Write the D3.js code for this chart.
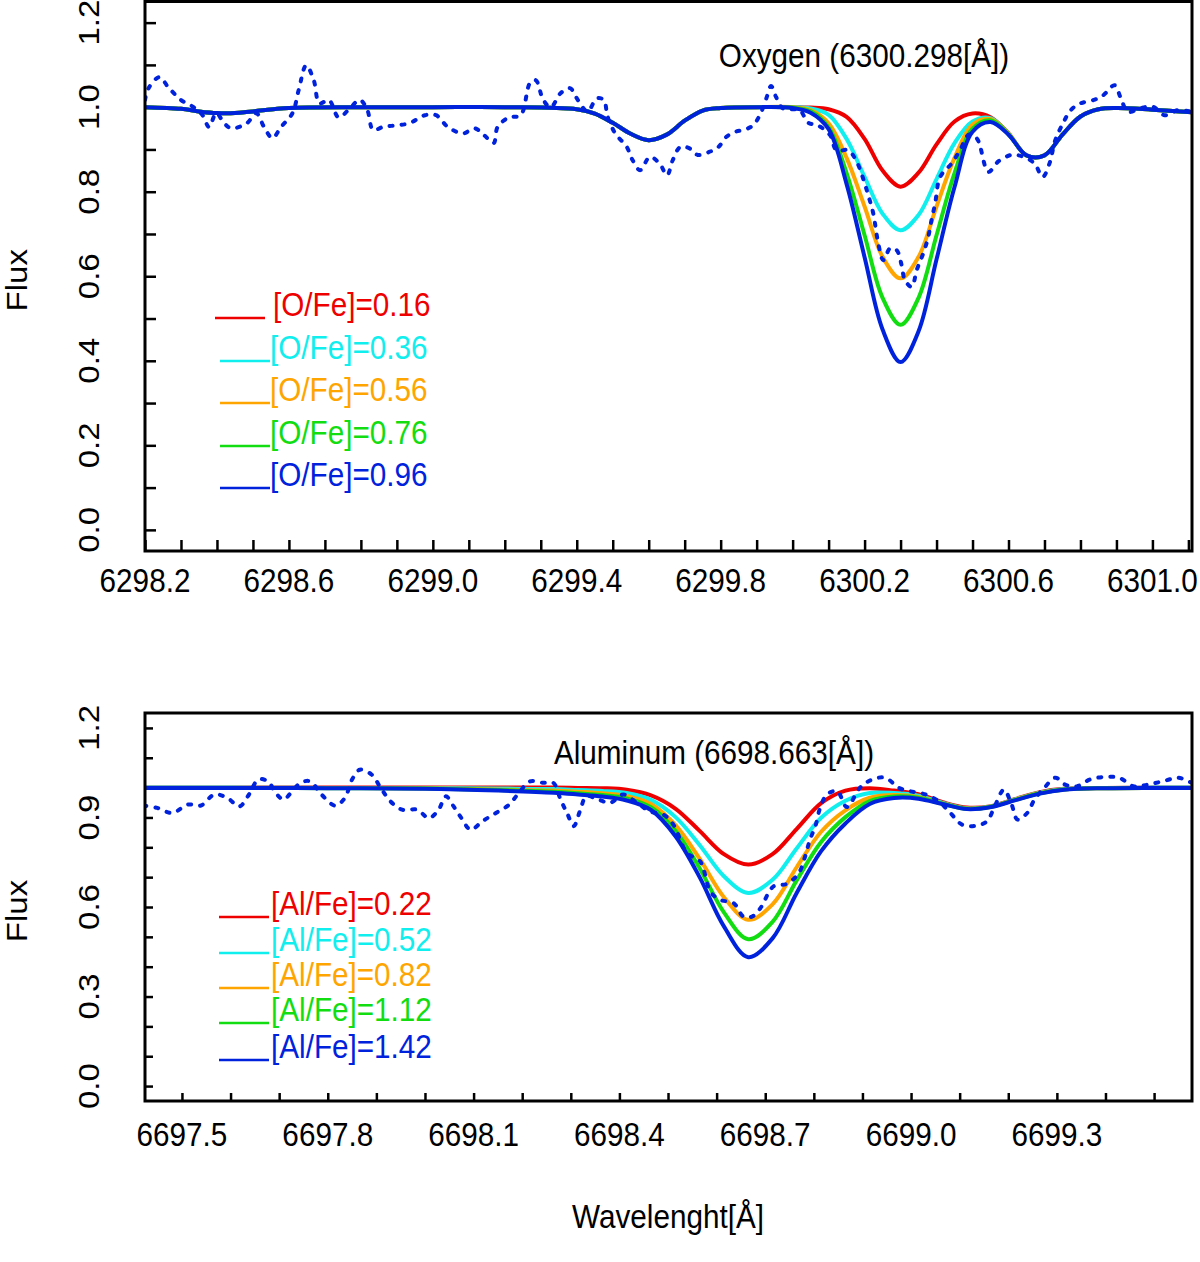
<!DOCTYPE html>
<html>
<head>
<meta charset="utf-8">
<script src="https://cdn.jsdelivr.net/npm/d3@7"></script>
<style>
  body { margin: 0; background: #fff; }
  svg { display: block; }
</style>
</head>
<body>
<svg id="chart" width="1200" height="1262"></svg>
<script>
// ---- Oxygen panel: synthetic spectra (wavelength grid + flux per abundance) ----
const oxyWave = [6298.20, 6298.30, 6298.35, 6298.40, 6298.45, 6298.50, 6298.60, 6298.80, 6299.00, 6299.20,
  6299.40, 6299.45, 6299.50, 6299.55, 6299.60, 6299.65, 6299.70, 6299.75, 6299.80, 6299.90,
  6300.00, 6300.05, 6300.10, 6300.15, 6300.20, 6300.25, 6300.30, 6300.35, 6300.40, 6300.45,
  6300.50, 6300.55, 6300.60, 6300.65, 6300.70, 6300.75, 6300.80, 6300.85, 6300.90, 6301.00, 6301.11];

const oxyRed = [1.000, 0.996, 0.990, 0.986, 0.986, 0.990, 0.998, 1.000, 1.000, 1.000,
  0.995, 0.985, 0.963, 0.937, 0.922, 0.935, 0.968, 0.992, 0.998, 1.000,
  1.000, 0.999, 0.995, 0.977, 0.925, 0.850, 0.812, 0.845, 0.912, 0.966,
  0.985, 0.976, 0.938, 0.886, 0.886, 0.935, 0.978, 0.995, 0.998, 0.994, 0.988];
const oxyCyan = [1.000, 0.996, 0.990, 0.986, 0.986, 0.990, 0.998, 1.000, 1.000, 1.000,
  0.995, 0.985, 0.963, 0.937, 0.922, 0.935, 0.968, 0.992, 0.998, 1.000,
  1.000, 0.997, 0.982, 0.925, 0.835, 0.748, 0.709, 0.745, 0.830, 0.915,
  0.966, 0.974, 0.937, 0.886, 0.886, 0.935, 0.978, 0.995, 0.998, 0.994, 0.988];
const oxyOrange = [1.000, 0.996, 0.990, 0.986, 0.986, 0.990, 0.998, 1.000, 1.000, 1.000,
  0.995, 0.985, 0.963, 0.937, 0.922, 0.935, 0.968, 0.992, 0.998, 1.000,
  1.000, 0.993, 0.962, 0.880, 0.765, 0.646, 0.595, 0.646, 0.765, 0.880,
  0.959, 0.972, 0.937, 0.886, 0.886, 0.935, 0.978, 0.995, 0.998, 0.994, 0.988];
const oxyGreen = [1.000, 0.996, 0.990, 0.986, 0.986, 0.990, 0.998, 1.000, 1.000, 1.000,
  0.995, 0.985, 0.963, 0.937, 0.922, 0.935, 0.968, 0.992, 0.998, 1.000,
  0.999, 0.990, 0.952, 0.844, 0.697, 0.549, 0.485, 0.549, 0.697, 0.844,
  0.949, 0.969, 0.936, 0.886, 0.886, 0.935, 0.978, 0.995, 0.998, 0.994, 0.988];
const oxyBlue = [1.000, 0.996, 0.990, 0.986, 0.986, 0.990, 0.998, 1.000, 1.000, 1.000,
  0.995, 0.985, 0.963, 0.937, 0.922, 0.935, 0.968, 0.992, 0.998, 1.000,
  0.998, 0.987, 0.948, 0.818, 0.645, 0.474, 0.397, 0.470, 0.640, 0.811,
  0.942, 0.965, 0.935, 0.886, 0.886, 0.935, 0.978, 0.995, 0.998, 0.994, 0.988];

// observed spectrum (dotted)
const oxyObsWave = [6298.200, 6298.210, 6298.240, 6298.265, 6298.300, 6298.335, 6298.360, 6298.378, 6298.398, 6298.420,
  6298.440, 6298.483, 6298.509, 6298.531, 6298.554, 6298.578, 6298.610, 6298.627, 6298.648, 6298.669,
  6298.685, 6298.711, 6298.738, 6298.765, 6298.797, 6298.818, 6298.834, 6298.861, 6298.898, 6298.935,
  6298.978, 6299.009, 6299.042, 6299.084, 6299.116, 6299.142, 6299.169, 6299.180, 6299.212, 6299.244,
  6299.270, 6299.286, 6299.307, 6299.328, 6299.355, 6299.381, 6299.403, 6299.430, 6299.456, 6299.475,
  6299.486, 6299.507, 6299.539, 6299.555, 6299.576, 6299.603, 6299.630, 6299.651, 6299.667, 6299.688,
  6299.715, 6299.736, 6299.768, 6299.794, 6299.816, 6299.842, 6299.863, 6299.890, 6299.911, 6299.927,
  6299.940, 6299.954, 6299.973, 6300.000, 6300.020, 6300.044, 6300.070, 6300.104, 6300.122, 6300.155,
  6300.178, 6300.196, 6300.210, 6300.224, 6300.238, 6300.252, 6300.271, 6300.289, 6300.303, 6300.312,
  6300.331, 6300.345, 6300.363, 6300.377, 6300.386, 6300.396, 6300.410, 6300.442, 6300.465, 6300.490,
  6300.512, 6300.544, 6300.571, 6300.608, 6300.640, 6300.672, 6300.695, 6300.714, 6300.730, 6300.751,
  6300.773, 6300.800, 6300.837, 6300.863, 6300.895, 6300.911, 6300.932, 6300.964, 6301.001, 6301.034,
  6301.071, 6301.108];
const oxyObsFlux = [1.017, 1.045, 1.071, 1.047, 1.017, 1.000, 0.981, 0.953, 0.986, 0.962,
  0.950, 0.962, 0.986, 0.953, 0.927, 0.953, 0.986, 1.040, 1.099, 1.064,
  1.009, 1.017, 0.976, 0.993, 1.017, 0.993, 0.946, 0.953, 0.957, 0.962,
  0.981, 0.981, 0.953, 0.938, 0.950, 0.934, 0.915, 0.953, 0.976, 0.981,
  1.057, 1.064, 1.017, 1.000, 1.033, 1.045, 1.017, 0.990, 1.021, 1.017,
  0.977, 0.938, 0.906, 0.875, 0.851, 0.882, 0.867, 0.839, 0.875, 0.906,
  0.902, 0.887, 0.894, 0.906, 0.930, 0.942, 0.946, 0.957, 0.985, 1.021,
  1.050, 1.024, 0.997, 0.995, 0.993, 0.963, 0.957, 0.934, 0.898, 0.898,
  0.871, 0.831, 0.792, 0.749, 0.678, 0.638, 0.666, 0.662, 0.626, 0.591,
  0.575, 0.615, 0.654, 0.693, 0.733, 0.772, 0.835, 0.867, 0.898, 0.935,
  0.926, 0.847, 0.871, 0.887, 0.883, 0.867, 0.835, 0.867, 0.922, 0.961,
  0.993, 1.009, 1.017, 1.028, 1.052, 1.024, 0.989, 0.997, 1.001, 0.981,
  0.993, 0.989];

const oxyLabels = ['[O/Fe]=0.16', '[O/Fe]=0.36', '[O/Fe]=0.56', '[O/Fe]=0.76', '[O/Fe]=0.96'];
const oxyXTicks = [6298.2, 6298.6, 6299.0, 6299.4, 6299.8, 6300.2, 6300.6, 6301.0];
const oxyYTicks = [0.0, 0.2, 0.4, 0.6, 0.8, 1.0, 1.2];

// ---- Aluminum panel ----
const alWave = [6697.424, 6697.600, 6697.800, 6698.000, 6698.150, 6698.265, 6698.315, 6698.365, 6698.415, 6698.465,
  6698.515, 6698.565, 6698.615, 6698.665, 6698.715, 6698.765, 6698.815, 6698.865, 6698.915, 6698.965,
  6699.015, 6699.065, 6699.115, 6699.165, 6699.215, 6699.265, 6699.315, 6699.400, 6699.500, 6699.578];

const alRed = [1.000, 1.000, 1.000, 1.000, 1.000, 1.000, 0.999, 0.998, 0.993, 0.974,
  0.930, 0.855, 0.777, 0.742, 0.777, 0.862, 0.948, 0.990, 0.998, 0.990,
  0.978, 0.951, 0.933, 0.938, 0.962, 0.985, 0.996, 0.999, 1.000, 1.000];
const alCyan = [1.000, 1.000, 0.999, 0.999, 0.997, 0.995, 0.992, 0.989, 0.982, 0.959,
  0.902, 0.808, 0.703, 0.647, 0.691, 0.797, 0.899, 0.956, 0.982, 0.982,
  0.973, 0.949, 0.931, 0.937, 0.961, 0.983, 0.995, 0.999, 1.000, 1.000];
const alOrange = [0.999, 0.999, 0.999, 0.998, 0.994, 0.990, 0.986, 0.981, 0.972, 0.945,
  0.875, 0.762, 0.633, 0.557, 0.609, 0.734, 0.852, 0.924, 0.966, 0.975,
  0.969, 0.947, 0.930, 0.936, 0.960, 0.982, 0.994, 0.998, 0.999, 0.999];
const alGreen = [0.999, 0.999, 0.998, 0.997, 0.992, 0.986, 0.981, 0.975, 0.964, 0.934,
  0.856, 0.730, 0.582, 0.492, 0.550, 0.690, 0.818, 0.901, 0.955, 0.970,
  0.966, 0.946, 0.929, 0.936, 0.959, 0.981, 0.994, 0.998, 0.999, 0.999];
const alBlue = [0.999, 0.999, 0.998, 0.996, 0.990, 0.983, 0.977, 0.970, 0.957, 0.925,
  0.838, 0.700, 0.535, 0.432, 0.495, 0.648, 0.787, 0.880, 0.945, 0.965,
  0.963, 0.945, 0.928, 0.935, 0.958, 0.980, 0.993, 0.998, 0.999, 0.999];

const alObsWave = [6697.421, 6697.449, 6697.480, 6697.512, 6697.539, 6697.567, 6697.594, 6697.618, 6697.638, 6697.657,
  6697.677, 6697.693, 6697.709, 6697.724, 6697.744, 6697.764, 6697.787, 6697.815, 6697.835, 6697.850,
  6697.866, 6697.890, 6697.909, 6697.929, 6697.953, 6697.984, 6698.008, 6698.028, 6698.043, 6698.059,
  6698.075, 6698.094, 6698.118, 6698.146, 6698.173, 6698.193, 6698.216, 6698.244, 6698.264, 6698.279,
  6698.293, 6698.306, 6698.319, 6698.332, 6698.354, 6698.381, 6698.408, 6698.436, 6698.463, 6698.491,
  6698.511, 6698.539, 6698.566, 6698.587, 6698.607, 6698.635, 6698.655, 6698.673, 6698.690, 6698.717,
  6698.745, 6698.769, 6698.782, 6698.792, 6698.803, 6698.813, 6698.827, 6698.848, 6698.868, 6698.895,
  6698.920, 6698.947, 6698.975, 6698.998, 6699.030, 6699.057, 6699.081, 6699.105, 6699.132, 6699.156,
  6699.172, 6699.191, 6699.207, 6699.219, 6699.239, 6699.254, 6699.274, 6699.297, 6699.317, 6699.341,
  6699.368, 6699.400, 6699.428, 6699.459, 6699.487, 6699.518, 6699.550, 6699.577];
const alObsFlux = [0.940, 0.932, 0.915, 0.943, 0.940, 0.977, 0.965, 0.937, 0.977, 1.027,
  1.021, 0.982, 0.960, 0.982, 1.016, 1.021, 0.977, 0.940, 0.965, 1.027,
  1.060, 1.044, 0.999, 0.954, 0.926, 0.926, 0.898, 0.926, 0.971, 0.937,
  0.898, 0.859, 0.887, 0.915, 0.943, 0.982, 1.021, 1.016, 1.016, 0.960,
  0.912, 0.871, 0.922, 0.971, 0.962, 0.949, 0.977, 0.949, 0.920, 0.909,
  0.876, 0.781, 0.753, 0.652, 0.624, 0.613, 0.568, 0.568, 0.596, 0.669,
  0.678, 0.714, 0.769, 0.826, 0.870, 0.932, 0.977, 0.988, 0.935, 1.000,
  1.027, 1.033, 0.999, 0.988, 0.977, 0.954, 0.915, 0.876, 0.872, 0.887,
  0.937, 0.993, 0.943, 0.893, 0.915, 0.960, 0.999, 1.033, 1.010, 1.004,
  1.027, 1.036, 1.033, 1.004, 1.010, 1.021, 1.033, 1.016];

const alLabels = ['[Al/Fe]=0.22', '[Al/Fe]=0.52', '[Al/Fe]=0.82', '[Al/Fe]=1.12', '[Al/Fe]=1.42'];
const alXTicks = [6697.5, 6697.8, 6698.1, 6698.4, 6698.7, 6699.0, 6699.3];
const alYTicks = [0.0, 0.3, 0.6, 0.9, 1.2];

const colors = ['#ee0000', '#11eeee', '#ffa500', '#11dd11', '#0022dd'];
const FONT = '"Liberation Sans", Arial, Helvetica, sans-serif';

const svg = d3.select('#chart');

// text is a bit narrower than normal, squeeze it horizontally
function addText(g, x, y, str, opts = {}) {
    const tr = opts.rotate
        ? `translate(${x},${y}) rotate(-90) scale(1,0.9)`
        : `translate(${x},${y}) scale(0.9,1)`;
    return g.append('text')
        .attr('transform', tr)
        .attr('text-anchor', opts.anchor || 'middle')
        .style('font-family', FONT)
        .style('font-size', (opts.size || 33) + 'px')
        .attr('fill', opts.color || '#000')
        .text(str);
}

function drawPanel(p) {
    const left = 145, right = 1192;
    const x = d3.scaleLinear().domain(p.xDomain).range([left, right]);
    const y = d3.scaleLinear().domain([-0.05, 1.25]).range([p.bottom, p.top]);
    const g = svg.append('g');

    g.append('clipPath').attr('id', p.id + '-clip')
        .append('rect')
        .attr('x', left).attr('y', p.top)
        .attr('width', right - left).attr('height', p.bottom - p.top);

    // minor ticks every 0.1, pointing inward
    const xMinor = d3.range(p.nXMinor).map(i => p.xMinorStart + i * 0.1);
    const yMinor = d3.range(13).map(i => i * 0.1);

    g.append('g')
        .attr('transform', `translate(0,${p.bottom})`)
        .call(d3.axisBottom(x).tickValues(xMinor).tickSizeInner(-p.tick).tickSizeOuter(0).tickFormat(''))
        .call(a => a.select('.domain').remove())
        .selectAll('line').attr('stroke', '#000').attr('stroke-width', 2.5);

    g.append('g')
        .attr('transform', `translate(${left},0)`)
        .call(d3.axisLeft(y).tickValues(yMinor).tickSizeInner(-p.tick).tickSizeOuter(0).tickFormat(''))
        .call(a => a.select('.domain').remove())
        .selectAll('line').attr('stroke', '#000').attr('stroke-width', 2.5);

    // tick labels
    p.xTicks.forEach(v => addText(g, x(v), p.xLabelY, v.toFixed(1)));
    p.yTicks.forEach(v => addText(g, 99, y(v), v.toFixed(1), { rotate: true }));
    addText(g, 27, (p.top + p.bottom) / 2 + 4, 'Flux', { rotate: true });

    // synthetic spectra
    const line = d3.line()
        .x(d => x(d[0]))
        .y(d => y(d[1]))
        .curve(d3.curveCatmullRom.alpha(0.5));

    const plot = g.append('g').attr('clip-path', `url(#${p.id}-clip)`);
    p.series.forEach((flux, i) => {
        plot.append('path')
            .datum(d3.zip(p.wave, flux))
            .attr('fill', 'none')
            .attr('stroke', colors[i])
            .attr('stroke-width', 4)
            .attr('d', line);
    });

    // observed spectrum
    plot.append('path')
        .datum(d3.zip(p.obsWave, p.obsFlux))
        .attr('fill', 'none')
        .attr('stroke', colors[4])
        .attr('stroke-width', 4)
        .attr('stroke-linecap', 'round')
        .attr('stroke-dasharray', '3,9')
        .attr('d', line);

    // frame
    g.append('rect')
        .attr('x', left).attr('y', p.top)
        .attr('width', right - left).attr('height', p.bottom - p.top)
        .attr('fill', 'none').attr('stroke', '#000').attr('stroke-width', 3);

    // title
    addText(g, p.titleX, p.titleY, p.title);

    // legend
    p.labels.forEach((lab, i) => {
        const ly = p.legendY[i];
        const x0 = i === 0 ? p.legendX0[0] : p.legendX0[1];
        g.append('line')
            .attr('x1', x0).attr('x2', x0 + 50)
            .attr('y1', ly).attr('y2', ly)
            .attr('stroke', colors[i]).attr('stroke-width', 2.5);
        addText(g, p.legendTextX[i === 0 ? 0 : 1], ly - 2, lab, { anchor: 'start', color: colors[i] });
    });
}

drawPanel({
    id: 'oxy',
    top: 1.5, bottom: 551, tick: 11,
    xDomain: [6298.2, 6301.11],
    xMinorStart: 6298.2, nXMinor: 30,
    xTicks: oxyXTicks, yTicks: oxyYTicks, xLabelY: 592,
    wave: oxyWave,
    series: [oxyRed, oxyCyan, oxyOrange, oxyGreen, oxyBlue],
    obsWave: oxyObsWave, obsFlux: oxyObsFlux,
    title: 'Oxygen (6300.298[Å])', titleX: 864, titleY: 67,
    labels: oxyLabels,
    legendY: [318, 361, 403, 446, 488],
    legendX0: [215, 220], legendTextX: [273, 270]
});

drawPanel({
    id: 'al',
    top: 713, bottom: 1101, tick: 8,
    xDomain: [6697.424, 6699.578],
    xMinorStart: 6697.5, nXMinor: 21,
    xTicks: alXTicks, yTicks: alYTicks, xLabelY: 1146,
    wave: alWave,
    series: [alRed, alCyan, alOrange, alGreen, alBlue],
    obsWave: alObsWave, obsFlux: alObsFlux,
    title: 'Aluminum (6698.663[Å])', titleX: 714, titleY: 764,
    labels: alLabels,
    legendY: [917, 953, 988, 1023, 1060],
    legendX0: [219, 219], legendTextX: [271, 271]
});

// x axis title
addText(svg, 668, 1228, 'Wavelenght[Å]');
</script>
</body>
</html>
